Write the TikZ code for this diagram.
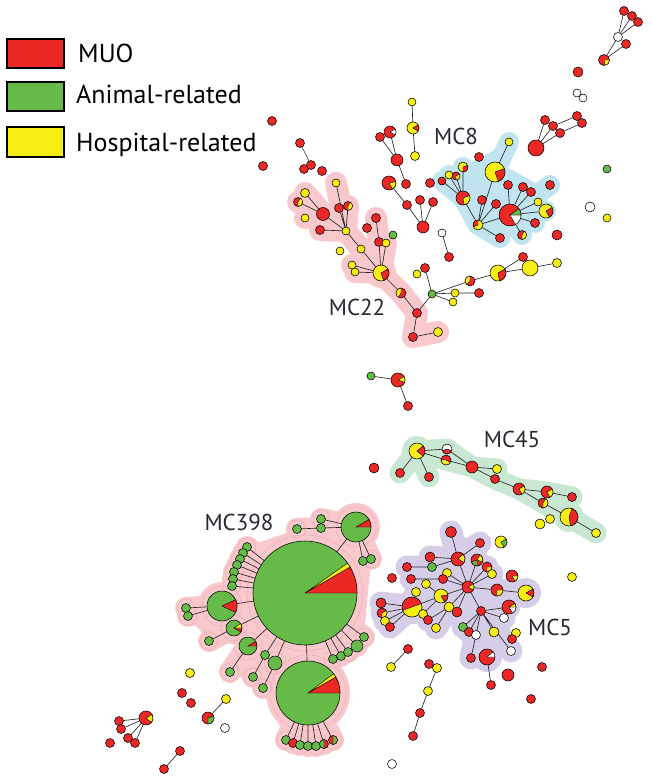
\documentclass[tikz,border=0pt]{standalone}
\usepackage{fontspec}
\setmainfont{PT Sans}
\definecolor{cR}{RGB}{235,40,38}
\definecolor{cG}{RGB}{102,186,72}
\definecolor{cY}{RGB}{246,236,22}
\definecolor{cW}{RGB}{255,255,255}
\definecolor{hPink}{RGB}{248,200,204}
\definecolor{hPinkD}{RGB}{240,176,182}
\definecolor{hBlue}{RGB}{192,229,241}
\definecolor{hMint}{RGB}{200,232,212}
\definecolor{hLav}{RGB}{214,206,232}
\definecolor{txt}{RGB}{40,40,50}
\pgfdeclarelayer{hull}\pgfdeclarelayer{edges}
\pgfsetlayers{hull,edges,main}
\tikzset{
  nd/.style={circle,draw=black,line width=.55pt,inner sep=0pt,outer sep=0pt},
  edge/.style={line width=.65pt,draw=black!85},
  hs/.style={line cap=round,line join=round},
  lab/.style={text=txt,font=\fontsize{23}{26}\selectfont,inner sep=0pt},
  legbox/.style={draw=black,line width=2.2pt},
  legtxt/.style={anchor=base west,text=black,font=\fontsize{26}{29}\selectfont,inner sep=0pt},
  tex/.style={draw=hPinkD,line width=.6pt}
}
\newcommand\Nd[4]{\node[nd,fill=#4,minimum size={2*#3pt}] (#1) at (#2) {};}
\newcommand\Sl[5]{\filldraw[fill=#5,draw=black,line width=.4pt] (#1.center) -- ++(#3:#2pt) arc[start angle=#3,end angle=#4,radius=#2pt] -- cycle;}
\begin{document}
\begin{tikzpicture}[x=1pt,y=-1pt]
\useasboundingbox (0,0) rectangle (652,781);
% ---------- legend
\draw[legbox,fill=cR] (7,39) rectangle (64,68);
\draw[legbox,fill=cG] (7,82) rectangle (64,111);
\draw[legbox,fill=cY] (7,127) rectangle (64,157);
\node[legtxt] (lg1) at (78,63) {MUO};
\node[legtxt] (lg2) at (76,104) {Animal-related};
\node[legtxt] (lg3) at (76,151) {Hospital-related};
% ---------- labels
\node[lab] (lMC8) at (456,136) {MC8};
\node[lab] (lMC22) at (357,307) {MC22};
\node[lab] (lMC45) at (512,439) {MC45};
\node[lab] (lMC398) at (239,522) {MC398};
\node[lab] (lMC5) at (550,627) {MC5};
% ---------- top right
\Nd{t1}{624,11}{4.5}{cR}
\Nd{t2}{632,16}{4.5}{cR}
\Nd{t3}{638,22}{4.5}{cR}
\Nd{t4}{618,37}{4.5}{cW}
\Nd{t5}{626,44}{4.5}{cR}
\Nd{t6}{604,60}{5.5}{cR}\Sl{t6}{5.5}{-80}{0}{cY}
\Nd{t7}{578,72}{5}{cR}
\Nd{w1}{577,93}{4}{cW}
\Nd{w2}{583,98}{4}{cW}
\Nd{b1}{536,148}{8}{cR}
\Nd{a1}{545,120}{4.5}{cR}
\Nd{a2}{553,126}{4.5}{cR}
\Nd{a3}{560,133}{4.5}{cR}
\Nd{a4}{577,116}{4.5}{cR}
\Nd{a5}{582,123}{4.5}{cR}
\Nd{g1}{607,169}{4}{cG}
\Nd{w3}{590,207}{5}{cW}
\Nd{y1}{607,218}{4}{cY}
% ---------- MC8
\Nd{m1}{509,142}{4}{cY}
\Nd{m2}{495,172}{10}{cY}\Sl{m2}{10}{-70}{20}{cR}
\Nd{m3}{479,157}{4.5}{cR}
\Nd{m4}{463,167}{5}{cY}\Sl{m4}{5}{-90}{20}{cR}
\Nd{m5}{449,175}{4}{cY}
\Nd{m6}{442,181}{4}{cR}
\Nd{m7}{456,176}{4}{cR}\Sl{m7}{4}{-90}{30}{cY}
\Nd{m8}{463,198}{7}{cR}\Sl{m8}{7}{-80}{20}{cY}
\Nd{m9}{482,200}{4.5}{cR}
\Nd{m10}{496,204}{4.5}{cR}
\Nd{m11}{508,185}{4.5}{cR}
\Nd{m12}{478,225}{5}{cY}\Sl{m12}{5}{90}{200}{cR}
\Nd{m13}{500,238}{4.5}{cR}
\Nd{mB}{510,215}{11}{cR}\Sl{mB}{11}{-60}{0}{cW}\Sl{mB}{11}{0}{35}{cG}
\Nd{m14}{523,187}{4.5}{cR}
\Nd{m15}{531,192}{4.5}{cR}
\Nd{m16}{538,202}{4}{cY}
\Nd{m17}{546,211}{7}{cY}\Sl{m17}{7}{-60}{30}{cR}
\Nd{m18}{535,223}{4.5}{cR}
\Nd{m19}{522,235}{4.5}{cR}\Sl{m19}{4.5}{-90}{60}{cY}
\Nd{m20}{550,185}{4.5}{cR}
\Nd{m21}{557,235}{5}{cR}
% ---------- left-middle tree
\Nd{n1}{390,132}{6}{cR}\Sl{n1}{6}{-30}{30}{cW}
\Nd{n2}{380,137}{4.5}{cR}
\Nd{n3}{397,160}{6}{cR}
\Nd{n4}{389,183}{7}{cR}\Sl{n4}{7}{-60}{10}{cY}
\Nd{n5}{406,184}{4.5}{cR}
\Nd{n6}{407,205}{4.5}{cR}
\Nd{n7}{420,200}{4.5}{cR}
\Nd{n8}{433,202}{4.5}{cR}
\Nd{n9}{423,227}{6}{cR}
\Nd{y2}{412,102}{4}{cY}
\Nd{n10}{413,128}{6}{cY}\Sl{n10}{6}{-30}{30}{cR}
\Nd{y3}{415,156}{4.5}{cY}
\Nd{n11}{430,183}{4.5}{cR}
\Nd{w4}{442,233}{4}{cW}
\Nd{n12}{449,257}{4.5}{cR}
\Nd{p0}{272,121}{4.5}{cR}
\Nd{p5}{263,166}{4.5}{cR}
\Nd{p1}{300,143}{4.5}{cR}
\Nd{p2}{304,169}{4.5}{cR}
\Nd{p3}{311,165}{4.5}{cR}
\Nd{p4}{322,171}{4.5}{cR}
% ---------- MC22
\Nd{c1}{305,193}{4.5}{cY}
\Nd{c2}{298,202}{4.5}{cR}\Sl{c2}{4.5}{-90}{60}{cY}
\Nd{c3}{305,218}{4}{cY}
\Nd{c4}{323,214}{6.5}{cR}
\Nd{c5}{320,230}{4.5}{cR}
\Nd{c6}{336,183}{4}{cY}
\Nd{c7}{339,208}{4.5}{cR}
\Nd{c8}{348,206}{4.5}{cR}\Sl{c8}{4.5}{-90}{60}{cY}
\Nd{c9}{346,231}{4}{cY}
\Nd{c10}{367,228}{4.5}{cR}
\Nd{c11}{376,218}{4.5}{cR}
\Nd{c12}{340,251}{4}{cY}
\Nd{c13}{361,249}{4}{cY}
\Nd{c14}{379,242}{4.5}{cR}
\Nd{c15}{386,243}{4}{cY}
\Nd{c16}{393,235}{4}{cG}
\Nd{c17}{352,265}{4}{cY}
\Nd{c18}{355,272}{4}{cY}
\Nd{c19}{381,273}{8}{cY}\Sl{c19}{8}{-70}{30}{cR}
\Nd{c20}{401,293}{5}{cR}\Sl{c20}{5}{90}{240}{cY}
\Nd{c21}{417,313}{4.5}{cR}
\Nd{c22}{413,337}{4.5}{cR}
\Nd{c23}{438,332}{4.5}{cY}
\Nd{d1}{432,294}{4}{cG}
\Nd{d2}{425,268}{4.5}{cR}
\Nd{d3}{417,274}{4}{cY}
\Nd{d4}{455,293}{4}{cY}
\Nd{d5}{453,302}{4}{cY}
\Nd{d6}{479,293}{4.5}{cR}
\Nd{d7}{470,281}{5}{cR}\Sl{d7}{5}{90}{230}{cY}
\Nd{d8}{498,273}{8}{cY}\Sl{d8}{8}{-80}{30}{cR}
\Nd{d9}{523,257}{4.5}{cR}
\Nd{d10}{530,268}{8}{cY}
\Nd{d11}{557,263}{4.5}{cY}
% ---------- middle
\Nd{e1}{371,376}{4}{cG}
\Nd{e2}{398,380}{7}{cR}\Sl{e2}{7}{-20}{30}{cY}
\Nd{e3}{408,406}{4.5}{cR}
% ---------- MC45
\Nd{f1}{417,451}{8}{cY}\Sl{f1}{8}{-40}{40}{cR}
\Nd{f2}{447,449}{5}{cW}\Sl{f2}{5}{200}{340}{cR}
\Nd{f3}{446,460}{5}{cR}\Sl{f3}{5}{180}{330}{cY}
\Nd{f4}{400,473}{4.5}{cR}
\Nd{f5}{429,477}{4.5}{cR}
\Nd{f6}{374,468}{5}{cR}
\Nd{f7}{472,467}{6}{cR}
\Nd{f8}{497,469}{4.5}{cY}
\Nd{f9}{495,479}{4.5}{cR}
\Nd{f10}{519,489}{6}{cR}\Sl{f10}{6}{-60}{30}{cY}
\Nd{f11}{547,492}{6}{cR}\Sl{f11}{6}{-60}{30}{cY}
\Nd{f12}{543,503}{5}{cR}\Sl{f12}{5}{-90}{60}{cY}
\Nd{f13}{572,497}{4.5}{cR}
\Nd{f14}{569,517}{9}{cY}\Sl{f14}{9}{-80}{70}{cR}
\Nd{f15}{596,533}{4.5}{cY}
\Nd{f16}{540,524}{5}{cY}
\Nd{f17}{550,519}{4.5}{cY}
\Nd{f18}{501,542}{6}{cY}\Sl{f18}{6}{-60}{30}{cG}
\Nd{f19}{572,577}{4.5}{cY}
% ---------- MC5
\Nd{h1}{451,532}{5.5}{cR}
\Nd{h2}{480,543}{4.5}{cR}
\Nd{h3}{458,559}{7}{cR}\Sl{h3}{7}{-30}{45}{cY}
\Nd{h4}{477,560}{6}{cR}\Sl{h4}{6}{-20}{60}{cY}\Sl{h4}{6}{200}{270}{cG}
\Nd{h5}{430,557}{5}{cR}
\Nd{h6}{407,567}{4.5}{cR}
\Nd{h7}{432,567}{4.5}{cG}
\Nd{h8}{487,567}{5}{cR}\Sl{h8}{5}{-90}{0}{cY}
\Nd{h9}{492,574}{4.5}{cY}
\Nd{h10}{392,578}{4.5}{cR}
\Nd{h11}{411,579}{4.5}{cR}
\Nd{h12}{447,573}{4.5}{cY}
\Nd{h13}{443,579}{4.5}{cR}
\Nd{h14}{468,587}{6}{cR}\Sl{h14}{6}{-30}{30}{cY}
\Nd{h15}{426,584}{4.5}{cY}
\Nd{h16}{512,576}{6}{cR}\Sl{h16}{6}{-60}{0}{cY}
\Nd{h17}{497,590}{6}{cR}\Sl{h17}{6}{-90}{0}{cY}
\Nd{h18}{526,593}{8}{cY}\Sl{h18}{8}{-30}{30}{cR}
\Nd{h19}{416,592}{4.5}{cY}
\Nd{h20}{441,596}{7}{cY}\Sl{h20}{7}{-60}{10}{cR}
\Nd{h21}{412,607}{10}{cR}\Sl{h21}{10}{-160}{20}{cY}
\Nd{h22}{381,603}{5}{cR}
\Nd{h23}{382,613}{5}{cR}\Sl{h23}{5}{-90}{30}{cY}
\Nd{h24}{385,621}{4.5}{cY}
\Nd{h25}{390,627}{4.5}{cR}
\Nd{h26}{423,614}{4.5}{cY}
\Nd{h27}{428,620}{4.5}{cR}
\Nd{h28}{436,628}{4.5}{cY}
\Nd{h29}{449,607}{5}{cY}
\Nd{h30}{457,612}{5}{cR}
\Nd{h31}{481,611}{4.5}{cR}
\Nd{h32}{509,607}{7}{cR}\Sl{h32}{7}{-60}{0}{cW}\Sl{h32}{7}{0}{30}{cY}
\Nd{h33}{504,618}{4.5}{cW}
\Nd{h34}{463,627}{4.5}{cG}
\Nd{h35}{469,632}{4.5}{cR}
\Nd{h36}{476,635}{4.5}{cW}
\Nd{h37}{494,632}{5}{cY}
\Nd{h38}{516,633}{4.5}{cY}
\Nd{h39}{512,639}{4.5}{cR}
\Nd{h40}{511,651}{4.5}{cW}
\Nd{h41}{471,658}{4.5}{cR}
\Nd{h42}{487,657}{8}{cR}\Sl{h42}{8}{0}{40}{cW}
\Nd{h43}{491,685}{4.5}{cR}
\Nd{h44}{508,675}{6}{cR}
\Nd{h45}{542,667}{4.5}{cR}
\Nd{h46}{531,699}{4.5}{cR}
% ---------- lower middle
\Nd{k1}{408,649}{4.5}{cR}
\Nd{k2}{391,667}{4.5}{cY}
\Nd{k3}{429,664}{4.5}{cR}
\Nd{k4}{437,668}{4.5}{cY}
\Nd{k5}{428,691}{4.5}{cY}
\Nd{k6}{420,713}{4.5}{cR}
\Nd{k7}{413,736}{4.5}{cR}
\Nd{k8}{392,764}{4.5}{cW}
% ---------- lower left
\Nd{l1}{190,673}{4.5}{cY}
\Nd{l2}{182,693}{4.5}{cR}
\Nd{l3}{191,703}{4.5}{cR}
\Nd{l4}{226,699}{4.5}{cY}
\Nd{l5}{208,718}{6}{cR}\Sl{l5}{6}{-90}{20}{cG}
\Nd{l6}{225,728}{4.5}{cW}
\Nd{l7}{146,718}{7}{cR}\Sl{l7}{7}{-40}{30}{cY}
\Nd{l8}{119,721}{4.5}{cR}
\Nd{l9}{121,729}{4.5}{cR}
\Nd{l10}{128,738}{4.5}{cR}
\Nd{l11}{135,743}{4.5}{cR}
\Nd{l12}{110,743}{4.5}{cR}
\Nd{l13}{180,751}{4.5}{cR}
\Nd{l14}{164,769}{4.5}{cR}
% ---------- MC398
\Nd{A}{305,593}{52}{cG}\Sl{A}{52}{0}{30}{cR}\Sl{A}{52}{30}{35}{cY}
\Nd{B}{356,527}{15}{cG}\Sl{B}{15}{0}{30}{cR}
\Nd{C}{308,693}{32}{cG}\Sl{C}{32}{0}{30}{cR}\Sl{C}{32}{30}{37}{cY}
\Nd{D}{222,606}{15}{cG}\Sl{D}{15}{-25}{25}{cR}
\Nd{E}{234,628}{8}{cG}\Sl{E}{8}{-30}{0}{cR}\Sl{E}{8}{0}{35}{cY}
\Nd{F}{248,646}{9}{cG}\Sl{F}{9}{0}{30}{cR}
\Nd{sb1}{321,519}{4.5}{cG}
\Nd{sb2}{321,528}{4.5}{cG}
\Nd{sb3}{297,529}{4.5}{cG}
\Nd{sb4}{363,561}{4.5}{cG}
\Nd{sb5}{371,559}{4.5}{cG}
\Nd{sd1}{186,608}{4.5}{cG}
\Nd{sd2}{188,616}{4.5}{cG}
\Nd{se1}{209,641}{4.5}{cG}
\Nd{sf1}{230,672}{4.5}{cG}
\Nd{u1}{247,547}{4.5}{cG}
\Nd{u2}{243,553}{4.5}{cG}
\Nd{u3}{240,559}{4.5}{cG}
\Nd{u4}{237,565}{4.5}{cG}
\Nd{u5}{234,572}{4.5}{cG}
\Nd{u6}{233,579}{4.5}{cG}
\Nd{u7}{232,586}{4.5}{cG}
\Nd{q1}{265,655}{4.5}{cG}
\Nd{q2}{275,663}{7}{cG}
\Nd{q3}{253,677}{4.5}{cG}
\Nd{q4}{263,688}{4.5}{cG}
\Nd{v1}{333,659}{4.5}{cG}
\Nd{v2}{341,656}{4.5}{cG}
\Nd{v3}{348,652}{4.5}{cG}
\Nd{v4}{357,646}{6}{cG}
\Nd{v5}{364,637}{4.5}{cG}
\Nd{z1}{286,740}{4.5}{cG}
\Nd{z2}{293,743}{4.5}{cR}
\Nd{z3}{300,745}{4.5}{cG}
\Nd{z4}{308,746}{4.5}{cG}
\Nd{z5}{316,746}{4.5}{cG}
\Nd{z6}{324,744}{4.5}{cR}\Sl{z6}{4.5}{90}{270}{cG}
\Nd{z7}{333,740}{4.5}{cR}\Sl{z7}{4.5}{-90}{90}{cG}
% ---------- edges
\begin{pgfonlayer}{edges}
\draw[edge] (t4)--(t1) (t4)--(t2) (t4)--(t3) (t6)--(t4) (t6)--(t5)
 (b1)--(a1) (b1)--(a2) (b1)--(a3) (a2)--(a4) (a3)--(a5)
 (m1)--(m2) (m2)--(m12) (m12)--(m8) (m8)--(m4) (m8)--(m5) (m8)--(m6) (m8)--(m7)
 (m12)--(m9) (m12)--(m10) (m12)--(m13) (m12)--(mB) (mB)--(m11) (mB)--(m14) (mB)--(m15)
 (mB)--(m16) (mB)--(m17) (mB)--(m18) (mB)--(m19)
 (n1)--(n3) (n2)--(n3) (n3)--(n5) (n4)--(n6) (n6)--(n9) (n7)--(n9) (n8)--(n9)
 (y2)--(n10) (n10)--(y3) (w4)--(n12) (p1)--(p3)
 (c1)--(c4) (c2)--(c4) (c4)--(c9) (c5)--(c9) (c6)--(c9) (c7)--(c9) (c8)--(c9)
 (c9)--(c13) (c13)--(c19) (c11)--(c14) (c14)--(c19) (c15)--(c19) (c17)--(c19) (c18)--(c19)
 (c19)--(c20) (c20)--(c21) (c21)--(c22) (c22)--(c23) (c21)--(d1) (d1)--(d2)
 (d1)--(d4) (d1)--(d5) (d4)--(d6) (d1)--(d7) (d7)--(d8) (d8)--(d9) (d8)--(d10) (d10)--(d11)
 (e1)--(e2) (e2)--(e3)
 (f1)--(f2) (f1)--(f3) (f1)--(f4) (f1)--(f5) (f3)--(f7) (f2)--(f7) (f7)--(f8) (f7)--(f9)
 (f9)--(f10) (f10)--(f11) (f11)--(f13) (f10)--(f12) (f12)--(f14) (f14)--(f15)
 (h3)--(h1) (h3)--(h2) (h3)--(h14) (h5)--(h3) (h6)--(h7) (h7)--(h3) (h4)--(h14) (h8)--(h14)
 (h9)--(h14) (h12)--(h14) (h13)--(h14) (h11)--(h13) (h15)--(h20) (h17)--(h14) (h18)--(h17)
 (h20)--(h14) (h21)--(h20) (h21)--(h22) (h21)--(h23) (h21)--(h24) (h21)--(h25) (h19)--(h21)
 (h26)--(h20) (h27)--(h29) (h28)--(h29) (h29)--(h14) (h30)--(h14) (h31)--(h14)
 (h31)--(h32) (h31)--(h33) (h31)--(h34) (h31)--(h35) (h31)--(h36) (h31)--(h37)
 (h31)--(h41) (h31)--(h40) (h42)--(h43)
 (k1)--(k2) (k4)--(k5) (k5)--(k6) (k6)--(k7)
 (l4)--(l5) (l7)--(l8) (l7)--(l9) (l7)--(l10) (l7)--(l11) (l13)--(l14)
 (A)--(B) (B)--(sb1) (B)--(sb2) (sb2)--(sb3) (B)--(sb4) (B)--(sb5) (A)--(C)
 (C)--(z1) (C)--(z2) (C)--(z3) (C)--(z4) (C)--(z5) (C)--(z6) (C)--(z7)
 (A)--(D) (D)--(sd1) (D)--(sd2) (A)--(E) (E)--(se1) (A)--(F) (F)--(sf1)
 (A)--(u1) (A)--(u2) (A)--(u3) (A)--(u4) (A)--(u5) (A)--(u6) (A)--(u7)
 (A)--(q1) (q1)--(q3) (A)--(q2) (q2)--(q4)
 (A)--(v1) (A)--(v2) (A)--(v3) (A)--(v4) (A)--(v5);
\end{pgfonlayer}
% ---------- hulls
\begin{pgfonlayer}{hull}
% MC8
\fill[hBlue] (m6.center)--(m4.center)--(m1.center)--(m2.center)--(m14.center)--(m20.center)--(m17.center)--(m19.center)--(m13.center)--(m12.center)--(m8.center)--cycle;
\draw[hBlue,hs,line width=20pt] (m1.center)--(m2.center)--(m12.center)--(m8.center)--(m4.center)
 (m8.center)--(m5.center) (m8.center)--(m6.center) (m8.center)--(m7.center)
 (m12.center)--(m13.center) (m12.center)--(mB.center)--(m17.center) (mB.center)--(m19.center)
 (mB.center)--(m14.center) (mB.center)--(m20.center) (mB.center)--(m18.center) (m2.center)--(m15.center)
 (m12.center)--(m9.center) (m12.center)--(m10.center);
% MC22
\draw[hPink,hs,line width=22pt] (c1.center)--(c4.center)--(c9.center)--(c13.center)--(c19.center)--(c20.center)--(c21.center)--(c22.center)--(c23.center)
 (c2.center)--(c4.center) (c3.center)--(c4.center) (c5.center)--(c9.center) (c6.center)--(c9.center)
 (c7.center)--(c9.center) (c8.center)--(c9.center) (c11.center)--(c14.center)--(c19.center)
 (c15.center)--(c19.center) (c17.center)--(c19.center) (c18.center)--(c19.center);
\fill[hPink] (c19.center) circle (15pt);
% MC45
\draw[hMint,hs,line width=21pt] (f4.center)--(f1.center)--(f5.center) (f1.center)--(f2.center)--(f7.center)
 (f1.center)--(f3.center)--(f7.center)--(f8.center) (f7.center)--(f9.center)--(f10.center)--(f11.center)--(f13.center)
 (f10.center)--(f12.center)--(f14.center)--(f15.center);
\fill[hMint] (f1.center) circle (15pt) (f14.center) circle (15pt);
% MC5
\fill[hLav] (h1.center)--(h2.center)--(h4.center)--(h9.center)--(h17.center)--(h32.center)--(h40.center)--(h41.center)--(h34.center)--(h30.center)--(h28.center)--(h20.center)--(h13.center)--(h7.center)--(h5.center)--(h3.center)--cycle;
\draw[hLav,hs,line width=23pt] (h1.center)--(h3.center)--(h14.center) (h3.center)--(h2.center) (h5.center)--(h3.center)
 (h6.center)--(h7.center)--(h3.center) (h4.center)--(h14.center) (h8.center)--(h14.center) (h9.center)--(h14.center)
 (h11.center)--(h13.center)--(h14.center) (h12.center)--(h14.center) (h17.center)--(h18.center) (h17.center)--(h14.center)
 (h20.center)--(h14.center) (h21.center)--(h20.center) (h21.center)--(h22.center) (h21.center)--(h23.center)
 (h21.center)--(h24.center) (h21.center)--(h25.center) (h19.center)--(h21.center) (h15.center)--(h20.center)
 (h26.center)--(h20.center) (h27.center)--(h29.center) (h28.center)--(h29.center)--(h14.center) (h30.center)--(h14.center)
 (h31.center)--(h14.center) (h31.center)--(h32.center) (h31.center)--(h33.center) (h31.center)--(h34.center)
 (h31.center)--(h35.center) (h31.center)--(h36.center) (h31.center)--(h37.center) (h31.center)--(h41.center)
 (h31.center)--(h40.center) (h31.center)--(h42.center);
\fill[hLav] (h21.center) circle (17pt) (h18.center) circle (15pt) (h42.center) circle (15pt);
% MC398
\fill[hPink] (A.center) circle (62pt) (C.center) circle (42pt) (B.center) circle (24pt) (D.center) circle (24pt);
\fill[hPink] (sd1.center)--(D.center)--(u1.center)--(sb3.center)--(sb1.center)--(B.center)--(sb5.center)--(v5.center)--(C.center)--(z1.center)--(q4.center)--(sf1.center)--(F.center)--(se1.center)--(sd2.center)--cycle;
\draw[hPink,hs,line width=22pt] (A.center)--(B.center) (B.center)--(sb1.center) (B.center)--(sb2.center)--(sb3.center)
 (B.center)--(sb4.center) (B.center)--(sb5.center) (A.center)--(C.center)
 (C.center)--(z1.center) (C.center)--(z2.center) (C.center)--(z3.center) (C.center)--(z4.center)
 (C.center)--(z5.center) (C.center)--(z6.center) (C.center)--(z7.center)
 (A.center)--(D.center) (D.center)--(sd1.center) (D.center)--(sd2.center) (A.center)--(E.center)--(se1.center)
 (A.center)--(F.center)--(sf1.center)
 (A.center)--(u1.center) (A.center)--(u2.center) (A.center)--(u3.center) (A.center)--(u4.center)
 (A.center)--(u5.center) (A.center)--(u6.center) (A.center)--(u7.center)
 (A.center)--(q1.center)--(q3.center) (A.center)--(q2.center)--(q4.center)
 (A.center)--(v1.center) (A.center)--(v2.center) (A.center)--(v3.center) (A.center)--(v4.center) (A.center)--(v5.center);
% texture arcs
\draw[tex] (A.center) circle (58pt) (C.center) circle (38pt) (B.center) circle (20pt) (D.center) circle (20pt)
 (E.center) circle (13pt) (F.center) circle (14pt)
 (u1.center) circle (9pt) (u3.center) circle (9pt) (u5.center) circle (9pt) (u7.center) circle (9pt)
 (sd1.center) circle (9pt) (sd2.center) circle (9pt) (se1.center) circle (9pt) (sf1.center) circle (9pt)
 (q3.center) circle (9pt) (q4.center) circle (9pt) (q2.center) circle (11pt)
 (z1.center) circle (9pt) (z3.center) circle (9pt) (z5.center) circle (9pt) (z7.center) circle (9pt)
 (v1.center) circle (9pt) (v3.center) circle (9pt) (v5.center) circle (9pt)
 (sb1.center) circle (9pt) (sb3.center) circle (9pt) (sb5.center) circle (9pt);
\end{pgfonlayer}
\end{tikzpicture}
\end{document}
